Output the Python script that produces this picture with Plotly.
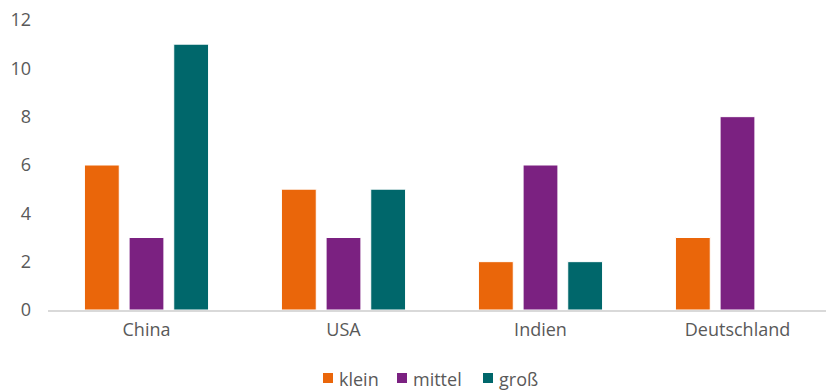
import plotly.graph_objects as go

categories = ["China", "USA", "Indien", "Deutschland"]
klein = [6, 5, 2, 3]
mittel = [3, 3, 6, 8]
gross = [11, 5, 2, 0]
series_names = ["klein", "mittel", "groß"]
colors = ["#EA660A", "#7B2181", "#00676B"]

W, H = 826, 392
L, R, T, B = 48, 0, 20, 82
pw, ph = W - L - R, H - T - B
cat_px = 197  # category spacing in pixels (plot area runs past right edge)

def px2x(px):
    return (px - L) / pw

def py2y(py):
    return (H - B - py) / ph

fig = go.Figure()
for name, vals, col in zip(series_names, [klein, mittel, gross], colors):
    fig.add_trace(go.Bar(x=categories, y=vals, name=name, showlegend=False,
                         marker=dict(color=col, line=dict(color="white", width=1))))

# custom legend (compact, like the reference)
legend_sq_left = [323, 397, 483]
legend_y = 378
for name, col, sx in zip(series_names, colors, legend_sq_left):
    fig.add_shape(type="rect", xref="paper", yref="paper",
                  x0=px2x(sx), x1=px2x(sx + 10),
                  y0=py2y(legend_y + 5), y1=py2y(legend_y - 5),
                  fillcolor=col, line=dict(width=0))
    fig.add_annotation(text=name, xref="paper", yref="paper",
                       x=px2x(sx + 14), y=py2y(legend_y + 1),
                       xanchor="left", yanchor="middle", showarrow=False,
                       font=dict(size=18, color="#595959"))

fig.update_layout(
    width=W, height=H,
    margin=dict(l=L, r=R, t=T, b=B),
    plot_bgcolor="white", paper_bgcolor="white",
    barmode="group", bargap=0.32, bargroupgap=0.22,
    font=dict(family="Open Sans", size=18, color="#595959"),
    showlegend=False,
    xaxis=dict(showgrid=False, showline=True, linecolor="#D9D9D9", linewidth=1.5,
               range=[-0.5, -0.5 + pw / cat_px],
               ticks="", tickfont=dict(size=18, color="#595959"), ticklabelstandoff=3),
    yaxis=dict(range=[0, 12], dtick=2, showgrid=False, zeroline=False, showline=False,
               ticks="", tickfont=dict(size=18, color="#595959"), ticklabelstandoff=16),
)
fig.write_html("out.html")
